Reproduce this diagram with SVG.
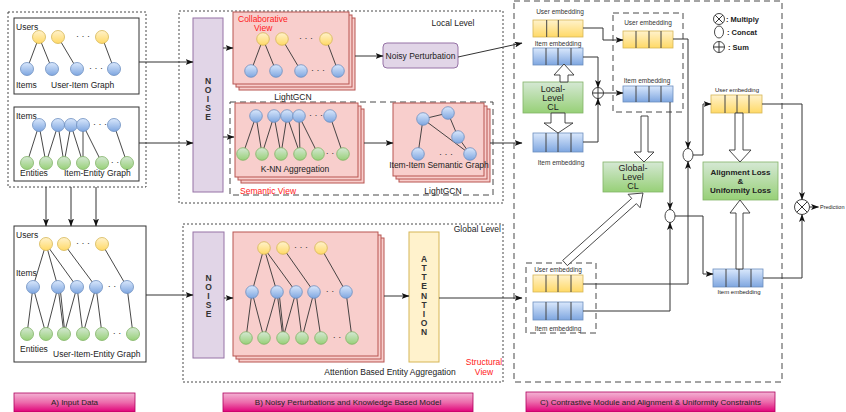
<svg xmlns="http://www.w3.org/2000/svg" width="846" height="412" viewBox="0 0 846 412">
<defs>
<linearGradient id="gy" x1="0" y1="0" x2="0" y2="1"><stop offset="0" stop-color="#fff2cc"/><stop offset="1" stop-color="#ffd966"/></linearGradient>
<linearGradient id="gb" x1="0" y1="0" x2="0" y2="1"><stop offset="0" stop-color="#dae8fc"/><stop offset="1" stop-color="#7ea6e0"/></linearGradient>
<linearGradient id="gg" x1="0" y1="0" x2="0" y2="1"><stop offset="0" stop-color="#d5e8d4"/><stop offset="1" stop-color="#97d077"/></linearGradient>
<linearGradient id="gp" x1="0" y1="0" x2="0" y2="1"><stop offset="0" stop-color="#f3b3d4"/><stop offset="0.5" stop-color="#ec6aab"/><stop offset="1" stop-color="#e00078"/></linearGradient>
<marker id="ah" viewBox="0 0 8 6" refX="7.5" refY="3" markerWidth="8" markerHeight="6" markerUnits="userSpaceOnUse" orient="auto"><path d="M0,0 L8,3 L0,6 L2,3 z" fill="#111"/></marker>
</defs>
<style>
text{font-family:"Liberation Sans",Arial,sans-serif;fill:#222}
.lb{font-size:8.5px}
.sm{font-size:6.5px;fill:#333}
.red{font-size:8.5px;fill:#ff2020}
.dots{font-size:9px;fill:#333}
.ltr{font-size:8.5px;font-weight:bold;fill:#333;text-anchor:middle}
.dotbox{fill:none;stroke:#333;stroke-width:0.9;stroke-dasharray:2,2}
.dashbox{fill:none;stroke:#333;stroke-width:0.9;stroke-dasharray:6,4}
.box{fill:#fff;stroke:#333;stroke-width:1}
.card{fill:#f8cecc;stroke:#b85450;stroke-width:1}
.purple{fill:#e1d5e7;stroke:#9673a6;stroke-width:1}
.yel{fill:url(#gy);stroke:#d6b656;stroke-width:0.8}
.blu{fill:url(#gb);stroke:#6c8ebf;stroke-width:0.8}
.grn{fill:url(#gg);stroke:#82b366;stroke-width:0.8}
.ed{stroke:#333;stroke-width:0.9;fill:none}
.cell{stroke:#444;stroke-width:1}
.conn{fill:none;stroke:#333;stroke-width:1;marker-end:url(#ah)}
.ln{fill:none;stroke:#333;stroke-width:1}
.blk{fill:#fff;stroke:#333;stroke-width:0.9}
.btn{fill:url(#gp);stroke:#b0005e;stroke-width:0.8}
.bt{font-size:8px;text-anchor:middle;fill:#222}
.op{fill:#fff;stroke:#333;stroke-width:0.9}
</style>

<!-- ===== Section A ===== -->
<g id="input-data">
<rect class="dotbox" x="8" y="12" width="138" height="175"/>
</g>
<g id="user-item-graph">
<rect class="box" x="14" y="18" width="125" height="76"/>
<text class="lb" x="16" y="30">Users</text>
<g class="ed"><line x1="39" y1="37" x2="27" y2="69"/><line x1="39" y1="37" x2="52" y2="69"/><line x1="58" y1="37" x2="77" y2="69"/><line x1="102" y1="37" x2="114" y2="69"/></g>
<circle class="yel" cx="39" cy="37" r="6.5"/><circle class="yel" cx="58" cy="37" r="6.5"/><circle class="yel" cx="102" cy="37" r="6.5"/>
<text class="dots" x="83" y="39" text-anchor="middle">· · ·</text>
<circle class="blu" cx="27" cy="69" r="6.5"/><circle class="blu" cx="52" cy="69" r="6.5"/><circle class="blu" cx="77" cy="69" r="6.5"/><circle class="blu" cx="114" cy="69" r="6.5"/>
<text class="dots" x="96" y="71" text-anchor="middle">· · ·</text>
<text class="lb" x="16" y="88">Items</text>
<text class="lb" x="51" y="88">User-Item Graph</text>
</g>
<g id="item-entity-graph">
<rect class="box" x="14" y="107" width="125" height="74"/>
<text class="lb" x="16" y="119">Items</text>
<g class="ed"><line x1="39" y1="125" x2="27" y2="163"/><line x1="39" y1="125" x2="46" y2="163"/><line x1="58" y1="125" x2="46" y2="163"/><line x1="58" y1="125" x2="64" y2="163"/><line x1="71" y1="125" x2="64" y2="163"/><line x1="71" y1="125" x2="83" y2="163"/><line x1="83" y1="125" x2="83" y2="163"/><line x1="83" y1="125" x2="102" y2="163"/><line x1="114" y1="125" x2="127" y2="163"/></g>
<circle class="blu" cx="39" cy="125" r="6.5"/><circle class="blu" cx="58" cy="125" r="6.5"/><circle class="blu" cx="71" cy="125" r="6.5"/><circle class="blu" cx="83" cy="125" r="6.5"/><circle class="blu" cx="114" cy="125" r="6.5"/>
<text class="dots" x="100" y="127" text-anchor="middle">· · ·</text>
<circle class="grn" cx="27" cy="163" r="6.5"/><circle class="grn" cx="46" cy="163" r="6.5"/><circle class="grn" cx="64" cy="163" r="6.5"/><circle class="grn" cx="83" cy="163" r="6.5"/><circle class="grn" cx="102" cy="163" r="6.5"/><circle class="grn" cx="127" cy="163" r="6.5"/>
<text class="dots" x="115" y="165" text-anchor="middle">· ·</text>
<text class="lb" x="20" y="176">Entities</text>
<text class="lb" x="64" y="176">Item-Entity Graph</text>
</g>
<g id="user-item-entity-graph">
<rect class="box" x="14" y="226" width="132" height="136"/>
<text class="lb" x="16" y="238">Users</text>
<text class="lb" x="16" y="276">Items</text>
<g class="ed"><line x1="46" y1="244" x2="33" y2="287"/><line x1="46" y1="244" x2="58" y2="287"/><line x1="46" y1="244" x2="77" y2="287"/><line x1="64" y1="244" x2="96" y2="287"/><line x1="102" y1="244" x2="127" y2="287"/>
<line x1="33" y1="287" x2="27" y2="334"/><line x1="33" y1="287" x2="46" y2="334"/><line x1="58" y1="287" x2="46" y2="334"/><line x1="58" y1="287" x2="64" y2="334"/><line x1="60" y1="287" x2="65" y2="334"/><line x1="77" y1="287" x2="64" y2="334"/><line x1="77" y1="287" x2="83" y2="334"/><line x1="96" y1="287" x2="83" y2="334"/><line x1="96" y1="287" x2="102" y2="334"/><line x1="127" y1="287" x2="133" y2="334"/></g>
<circle class="yel" cx="46" cy="244" r="6.5"/><circle class="yel" cx="64" cy="244" r="6.5"/><circle class="yel" cx="102" cy="244" r="6.5"/>
<text class="dots" x="83" y="246" text-anchor="middle">· · ·</text>
<circle class="blu" cx="33" cy="287" r="6.5"/><circle class="blu" cx="58" cy="287" r="6.5"/><circle class="blu" cx="77" cy="287" r="6.5"/><circle class="blu" cx="96" cy="287" r="6.5"/><circle class="blu" cx="127" cy="287" r="6.5"/>
<text class="dots" x="112" y="289" text-anchor="middle">· ·</text>
<circle class="grn" cx="27" cy="334" r="6.5"/><circle class="grn" cx="46" cy="334" r="6.5"/><circle class="grn" cx="64" cy="334" r="6.5"/><circle class="grn" cx="83" cy="334" r="6.5"/><circle class="grn" cx="102" cy="334" r="6.5"/><circle class="grn" cx="133" cy="334" r="6.5"/>
<text class="dots" x="117" y="336" text-anchor="middle">· ·</text>
<text class="lb" x="20" y="352">Entities</text>
<text class="lb" x="53" y="357">User-Item-Entity Graph</text>
</g>
<g id="label-a">
<rect class="btn" x="14" y="393" width="121" height="19"/>
<text class="bt" x="74.5" y="405">A) Input Data</text>
</g>

<!-- ===== Section B ===== -->
<g id="local-level">
<rect class="dotbox" x="179" y="11" width="324" height="192"/>
<text class="lb" x="453" y="26" text-anchor="middle">Local Level</text>
</g>
<g id="noise-1">
<rect class="purple" x="193" y="18" width="30" height="174"/>
<text class="ltr" x="208" y="84">N</text><text class="ltr" x="208" y="93">O</text><text class="ltr" x="208" y="102">I</text><text class="ltr" x="208" y="111">S</text><text class="ltr" x="208" y="120">E</text>
</g>
<g id="collaborative-view">
<rect class="card" x="239" y="18" width="116" height="72"/>
<rect class="card" x="236" y="15" width="116" height="72"/>
<rect class="card" x="233" y="12" width="116" height="72"/>
<text class="red" x="238" y="22">Collaborative</text>
<text class="red" x="254" y="31">View</text>
<g class="ed"><line x1="263" y1="39" x2="251" y2="71"/><line x1="263" y1="39" x2="276" y2="71"/><line x1="282" y1="39" x2="301" y2="71"/><line x1="326" y1="39" x2="338" y2="71"/></g>
<circle class="yel" cx="263" cy="39" r="6.3"/><circle class="yel" cx="282" cy="39" r="6.3"/><circle class="yel" cx="326" cy="39" r="6.3"/>
<text class="dots" x="306" y="41" text-anchor="middle">· · ·</text>
<circle class="blu" cx="251" cy="71" r="6.3"/><circle class="blu" cx="276" cy="71" r="6.3"/><circle class="blu" cx="301" cy="71" r="6.3"/><circle class="blu" cx="338" cy="71" r="6.3"/>
<text class="dots" x="318" y="73" text-anchor="middle">· · ·</text>
<text class="lb" x="293" y="100" text-anchor="middle">LightGCN</text>
</g>
<g id="noisy-perturbation">
<rect class="purple" x="383" y="43" width="75" height="25" rx="4"/>
<text class="lb" x="420.5" y="59" text-anchor="middle">Noisy Perturbation</text>
</g>
<g id="semantic-view">
<rect class="dashbox" x="230" y="102" width="263" height="93" stroke="#555"/>
<text class="red" x="240" y="194">Semantic View</text>
</g>
<g id="knn-aggregation">
<rect class="card" x="241" y="109" width="123" height="74"/>
<rect class="card" x="238" y="106" width="123" height="74"/>
<rect class="card" x="235" y="103" width="123" height="74"/>
<g class="ed"><line x1="256" y1="116" x2="243" y2="154"/><line x1="256" y1="116" x2="262" y2="154"/><line x1="274" y1="116" x2="262" y2="154"/><line x1="274" y1="116" x2="281" y2="154"/><line x1="287" y1="116" x2="281" y2="154"/><line x1="287" y1="116" x2="300" y2="154"/><line x1="299" y1="116" x2="300" y2="154"/><line x1="299" y1="116" x2="318" y2="154"/><line x1="330" y1="116" x2="343" y2="154"/></g>
<circle class="blu" cx="256" cy="116" r="6.3"/><circle class="blu" cx="274" cy="116" r="6.3"/><circle class="blu" cx="287" cy="116" r="6.3"/><circle class="blu" cx="299" cy="116" r="6.3"/><circle class="blu" cx="330" cy="116" r="6.3"/>
<text class="dots" x="316" y="118" text-anchor="middle">· · ·</text>
<circle class="grn" cx="243" cy="154" r="6.3"/><circle class="grn" cx="262" cy="154" r="6.3"/><circle class="grn" cx="281" cy="154" r="6.3"/><circle class="grn" cx="300" cy="154" r="6.3"/><circle class="grn" cx="318" cy="154" r="6.3"/><circle class="grn" cx="343" cy="154" r="6.3"/>
<text class="dots" x="330" y="156" text-anchor="middle">· ·</text>
<text class="lb" x="295" y="172" text-anchor="middle">K-NN Aggregation</text>
</g>
<g id="item-item-semantic-graph">
<rect class="card" x="399" y="109" width="91" height="73"/>
<rect class="card" x="396" y="106" width="91" height="73"/>
<rect class="card" x="393" y="103" width="91" height="73"/>
<g class="ed"><line x1="423" y1="119" x2="448" y2="113"/><line x1="448" y1="113" x2="458" y2="137"/><line x1="458" y1="137" x2="470" y2="154"/><line x1="423" y1="119" x2="470" y2="154"/><line x1="423" y1="119" x2="418" y2="154"/></g>
<circle class="blu" cx="423" cy="119" r="6.3"/><circle class="blu" cx="448" cy="113" r="6.3"/><circle class="blu" cx="458" cy="137" r="6.3"/><circle class="blu" cx="470" cy="154" r="6.3"/><circle class="blu" cx="418" cy="154" r="6.3"/>
<text class="dots" x="446" y="157" text-anchor="middle">· · ·</text>
<text class="lb" x="439" y="168" text-anchor="middle">Item-Item Semantic Graph</text>
<text class="lb" x="443" y="194" text-anchor="middle">LightGCN</text>
</g>
<g id="global-level">
<rect class="dotbox" x="183" y="224" width="320" height="158"/>
<text class="lb" x="501" y="232" text-anchor="end">Global Level</text>
<text class="red" x="484" y="365" text-anchor="middle">Structural</text>
<text class="red" x="484" y="375" text-anchor="middle">View</text>
</g>
<g id="noise-2">
<rect class="purple" x="193" y="232" width="31" height="126"/>
<text class="ltr" x="208.5" y="281">N</text><text class="ltr" x="208.5" y="290">O</text><text class="ltr" x="208.5" y="299">I</text><text class="ltr" x="208.5" y="308">S</text><text class="ltr" x="208.5" y="317">E</text>
</g>
<g id="attention-entity-aggregation">
<rect class="card" x="239" y="238" width="145" height="124"/>
<rect class="card" x="236" y="235" width="145" height="124"/>
<rect class="card" x="233" y="232" width="145" height="124"/>
<g class="ed"><line x1="264" y1="248" x2="252" y2="292"/><line x1="264" y1="248" x2="277" y2="292"/><line x1="264" y1="248" x2="296" y2="292"/><line x1="283" y1="248" x2="314" y2="292"/><line x1="321" y1="248" x2="346" y2="292"/>
<line x1="252" y1="292" x2="246" y2="338"/><line x1="252" y1="292" x2="264" y2="338"/><line x1="277" y1="292" x2="264" y2="338"/><line x1="277" y1="292" x2="283" y2="338"/><line x1="279" y1="292" x2="284" y2="338"/><line x1="296" y1="292" x2="283" y2="338"/><line x1="296" y1="292" x2="302" y2="338"/><line x1="314" y1="292" x2="302" y2="338"/><line x1="314" y1="292" x2="321" y2="338"/><line x1="346" y1="292" x2="352" y2="338"/></g>
<circle class="yel" cx="264" cy="248" r="6.3"/><circle class="yel" cx="283" cy="248" r="6.3"/><circle class="yel" cx="321" cy="248" r="6.3"/>
<text class="dots" x="301" y="250" text-anchor="middle">· · ·</text>
<circle class="blu" cx="252" cy="292" r="6.3"/><circle class="blu" cx="277" cy="292" r="6.3"/><circle class="blu" cx="296" cy="292" r="6.3"/><circle class="blu" cx="314" cy="292" r="6.3"/><circle class="blu" cx="346" cy="292" r="6.3"/>
<text class="dots" x="330" y="294" text-anchor="middle">· ·</text>
<circle class="grn" cx="246" cy="338" r="6.3"/><circle class="grn" cx="264" cy="338" r="6.3"/><circle class="grn" cx="283" cy="338" r="6.3"/><circle class="grn" cx="302" cy="338" r="6.3"/><circle class="grn" cx="321" cy="338" r="6.3"/><circle class="grn" cx="352" cy="338" r="6.3"/>
<text class="dots" x="337" y="340" text-anchor="middle">· ·</text>
<text class="lb" x="390" y="375" text-anchor="middle">Attention Based Entity Aggregation</text>
</g>
<g id="attention">
<rect x="409" y="232" width="30" height="130" fill="#fff2cc" stroke="#d6b656" stroke-width="1"/>
<text class="ltr" x="424" y="262">A</text><text class="ltr" x="424" y="271">T</text><text class="ltr" x="424" y="280">T</text><text class="ltr" x="424" y="289">E</text><text class="ltr" x="424" y="299">N</text><text class="ltr" x="424" y="308">T</text><text class="ltr" x="424" y="317">I</text><text class="ltr" x="424" y="326">O</text><text class="ltr" x="424" y="335">N</text>
</g>
<g id="label-b">
<rect class="btn" x="223" y="393" width="250" height="19"/>
<text class="bt" x="348" y="405">B) Noisy Perturbations and Knowledge Based Model</text>
</g>

<!-- ===== Section C ===== -->
<g id="contrastive-module">
<rect class="dashbox" x="514" y="1" width="268" height="381" stroke-dasharray="8,5"/>
</g>
<g id="legend">
<circle class="op" cx="719" cy="19" r="5.5"/><path class="ln" d="M715.1,15.1 L722.9,22.9 M722.9,15.1 L715.1,22.9"/>
<text x="726" y="22" font-size="7.5" font-weight="bold" fill="#333">: Multiply</text>
<ellipse class="op" cx="719" cy="32" rx="4.5" ry="6"/>
<text x="727" y="35" font-size="7.5" font-weight="bold" fill="#333">: Concat</text>
<circle class="op" cx="719" cy="47" r="5.5"/><path class="ln" d="M713.5,47 H724.5 M719,41.5 V52.5"/>
<text x="728" y="50" font-size="7.5" font-weight="bold" fill="#333">: Sum</text>
</g>
<g id="user-embedding-1">
<text class="sm" x="560" y="13.5" text-anchor="middle">User embedding</text>
<rect class="yel" x="533" y="20" width="50" height="17"/>
<path class="cell" d="M546.7,20 V37 M558.3,20 V37"/>
</g>
<g id="item-embedding-1">
<text class="sm" x="558" y="45.5" text-anchor="middle">Item embedding</text>
<rect class="blu" x="533" y="48" width="50" height="17"/>
<path class="cell" d="M546,48 V65 M558,48 V65 M571,48 V65"/>
</g>
<g id="local-level-cl">
<rect class="grn" x="523" y="82" width="60" height="31" stroke-width="1"/>
<text x="553" y="91.5" font-size="9" text-anchor="middle">Local-</text>
<text x="553" y="100.5" font-size="9" text-anchor="middle">Level</text>
<text x="553" y="109.5" font-size="9" text-anchor="middle">CL</text>
</g>
<g id="item-embedding-2">
<rect class="blu" x="533" y="133" width="50" height="19"/>
<path class="cell" d="M546,133 V152 M558,133 V152 M571,133 V152"/>
<text class="sm" x="561" y="164.5" text-anchor="middle">Item embedding</text>
</g>
<g id="sum">
<circle class="op" cx="598" cy="93" r="5.5"/><path class="ln" d="M592.5,93 H603.5 M598,87.5 V98.5"/>
</g>
<g id="fused-embeddings">
<rect class="dashbox" x="613" y="13" width="70" height="99" stroke-dasharray="6,4"/>
<text class="sm" x="648" y="24.5" text-anchor="middle">User embedding</text>
<rect class="yel" x="623" y="31" width="50" height="17"/>
<path class="cell" d="M636,31 V48 M649,31 V48 M661,31 V48"/>
<text class="sm" x="647" y="82.5" text-anchor="middle">Item embedding</text>
<rect class="blu" x="623" y="86" width="50" height="16"/>
<path class="cell" d="M636,86 V102 M649,86 V102 M661,86 V102"/>
</g>
<g id="global-level-cl">
<rect class="grn" x="603" y="162" width="60" height="30" stroke-width="1"/>
<text x="633" y="171" font-size="9" text-anchor="middle">Global-</text>
<text x="633" y="180" font-size="9" text-anchor="middle">Level</text>
<text x="633" y="189" font-size="9" text-anchor="middle">CL</text>
</g>
<g id="structural-embeddings">
<rect class="dashbox" x="526" y="263" width="70" height="70" stroke-dasharray="6,4"/>
<text class="sm" x="558" y="271.5" text-anchor="middle">User embedding</text>
<rect class="yel" x="533" y="275" width="50" height="17"/>
<path class="cell" d="M546,275 V292 M558,275 V292 M571,275 V292"/>
<rect class="blu" x="533" y="302" width="50" height="18"/>
<path class="cell" d="M546,302 V320 M558,302 V320 M571,302 V320"/>
<text class="sm" x="558" y="330.5" text-anchor="middle">Item embedding</text>
</g>
<g id="concat-1"><ellipse class="op" cx="688" cy="155" rx="5" ry="6.5"/></g>
<g id="concat-2"><ellipse class="op" cx="670" cy="216" rx="5" ry="6.5"/></g>
<g id="final-user-embedding">
<text x="737" y="91.5" font-size="6" fill="#333" text-anchor="middle">User embedding</text>
<rect class="yel" x="711" y="95" width="51" height="18"/>
<path class="cell" d="M725,95 V113 M737,95 V113 M749,95 V113"/>
</g>
<g id="alignment-uniformity-loss">
<rect class="grn" x="703" y="162" width="75" height="38" stroke-width="1"/>
<text x="740.5" y="175" font-size="8" font-weight="bold" fill="#333" text-anchor="middle">Alignment Loss</text>
<text x="740.5" y="184" font-size="8" font-weight="bold" fill="#333" text-anchor="middle">&amp;</text>
<text x="740.5" y="193" font-size="8" font-weight="bold" fill="#333" text-anchor="middle">Uniformity Loss</text>
</g>
<g id="final-item-embedding">
<rect class="blu" x="713" y="269" width="50" height="18"/>
<path class="cell" d="M726,269 V287 M739,269 V287 M751,269 V287"/>
<text x="739" y="294" font-size="6" fill="#333" text-anchor="middle">Item embedding</text>
</g>
<g id="multiply">
<circle class="op" cx="802" cy="207" r="7.5"/><path class="ln" d="M796.7,201.7 L807.3,212.3 M807.3,201.7 L796.7,212.3"/>
</g>
<g id="prediction">
<text x="820" y="209" font-size="5.5" fill="#333">Prediction</text>
</g>
<g id="label-c">
<rect class="btn" x="526" y="392" width="249" height="20"/>
<text class="bt" x="650.5" y="405">C) Contrastive Module and Alignment &amp; Uniformity Constraints</text>
</g>

<!-- ===== Connectors ===== -->
<g id="connectors">
<path class="conn" d="M139,62 H193"/>
<path class="conn" d="M139,143 H193"/>
<path class="conn" d="M46,187 V226"/>
<path class="conn" d="M71,187 V226"/>
<path class="conn" d="M96,187 V226"/>
<path class="conn" d="M146,295 H193"/>
<path class="conn" d="M223,48 H233"/>
<path class="conn" d="M223,137 H234"/>
<path class="conn" d="M355,56 H383"/>
<path class="conn" d="M458,57 L522,43"/>
<path class="conn" d="M364,143 H393"/>
<path class="conn" d="M490,143 H522"/>
<path class="conn" d="M224,298 H233"/>
<path class="conn" d="M384,296 H409"/>
<path class="conn" d="M439,298 H522"/>
<path class="conn" d="M583,28 H603 V40 H623"/>
<path class="conn" d="M583,57 H598 V87.5"/>
<path class="conn" d="M583,142 H598 V98.5"/>
<path class="conn" d="M603.5,93 H623"/>
<path class="conn" d="M673,39 H688 V148.5"/>
<path class="conn" d="M583,284 H688 V161.5"/>
<path class="conn" d="M670,102 V209.5"/>
<path class="conn" d="M583,311 H670 V222.5"/>
<path class="conn" d="M693,155 H703 V104 H711"/>
<path class="conn" d="M675,216 H703 V274 H713"/>
<path class="conn" d="M762,104 H802 V199.5"/>
<path class="conn" d="M763,278 H802 V214.5"/>
<path class="conn" d="M809.5,207 H818.5"/>
<polygon class="blk" points="564,64 574,75 568,75 568,82 560,82 560,75 554,75"/>
<polygon class="blk" points="551,113 565,113 565,123 573,123 558,133 544,123 551,123"/>
<polygon class="blk" points="641,116 648,116 648,152 654,152 644,162 634,152 641,152"/>
<polygon class="blk" points="562.66,260.40 631.73,198.42 628.06,194.32 643,193 640.08,207.72 636.41,203.62 567.34,265.60"/>
<polygon class="blk" points="735,113 743,113 743,150 751,150 740,162 729,150 735,150"/>
<polygon class="blk" points="736,269 743,269 743,213 750,213 740,200 730,213 736,213"/>
</g>
</svg>
